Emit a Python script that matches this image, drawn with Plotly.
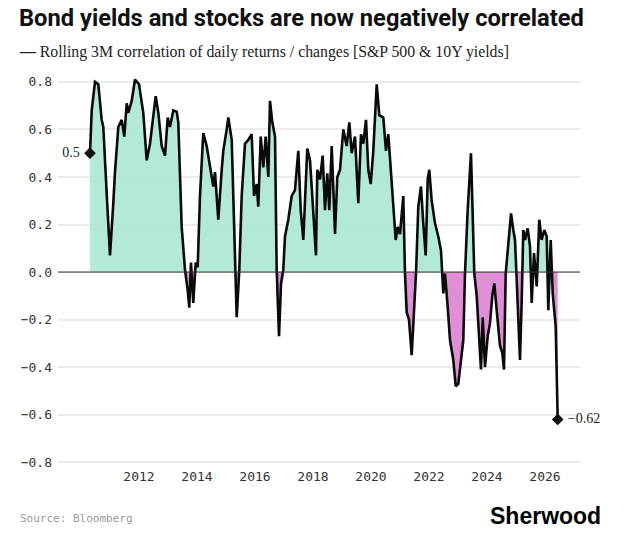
import plotly.graph_objects as go

# ---- data (decimal year, rolling 3M correlation) ----
years = [
    2010.310, 2010.370, 2010.483, 2010.597, 2010.714, 2010.769, 2010.886, 2011.000, 2011.114, 2011.172,
    2011.286, 2011.403, 2011.493, 2011.576, 2011.631, 2011.748, 2011.862, 2012.000, 2012.148, 2012.266,
    2012.379, 2012.576, 2012.666, 2012.783, 2012.897, 2012.990, 2013.069, 2013.183, 2013.300, 2013.355,
    2013.472, 2013.586, 2013.679, 2013.734, 2013.793, 2013.872, 2013.955, 2014.024, 2014.103, 2014.217,
    2014.334, 2014.448, 2014.562, 2014.621, 2014.734, 2014.852, 2014.907, 2015.024, 2015.079, 2015.197,
    2015.252, 2015.310, 2015.369, 2015.459, 2015.541, 2015.655, 2015.769, 2015.886, 2015.966, 2016.059,
    2016.114, 2016.197, 2016.286, 2016.369, 2016.459, 2016.517, 2016.597, 2016.690, 2016.748, 2016.828,
    2016.897, 2016.976, 2017.034, 2017.148, 2017.266, 2017.379, 2017.493, 2017.576, 2017.666, 2017.803,
    2017.897, 2018.010, 2018.103, 2018.148, 2018.241, 2018.334, 2018.414, 2018.493, 2018.562, 2018.645,
    2018.759, 2018.838, 2018.931, 2019.045, 2019.162, 2019.252, 2019.334, 2019.448, 2019.562, 2019.655,
    2019.734, 2019.828, 2019.907, 2019.990, 2020.079, 2020.197, 2020.286, 2020.424, 2020.517, 2020.597,
    2020.655, 2020.769, 2020.852, 2020.921, 2021.000, 2021.114, 2021.172, 2021.231, 2021.310, 2021.403,
    2021.493, 2021.552, 2021.631, 2021.724, 2021.803, 2021.886, 2021.955, 2022.010, 2022.093, 2022.207,
    2022.321, 2022.414, 2022.493, 2022.552, 2022.645, 2022.724, 2022.838, 2022.921, 2023.010, 2023.103,
    2023.183, 2023.241, 2023.334, 2023.448, 2023.528, 2023.562, 2023.645, 2023.724, 2023.793, 2023.852,
    2023.931, 2024.024, 2024.103, 2024.183, 2024.252, 2024.334, 2024.448, 2024.528, 2024.586, 2024.645,
    2024.734, 2024.828, 2024.907, 2024.966, 2025.024, 2025.079, 2025.138, 2025.197, 2025.252, 2025.310,
    2025.403, 2025.483, 2025.541, 2025.621, 2025.714, 2025.803, 2025.883, 2025.976, 2026.059, 2026.114,
    2026.197, 2026.266, 2026.321, 2026.369, 2026.438,
]
corr = [
    0.50, 0.68, 0.80, 0.79, 0.64, 0.61, 0.33, 0.07, 0.29, 0.42,
    0.61, 0.64, 0.57, 0.71, 0.67, 0.72, 0.81, 0.79, 0.67, 0.47,
    0.54, 0.74, 0.67, 0.53, 0.49, 0.65, 0.61, 0.68, 0.675, 0.63,
    0.19, 0.01, -0.076, -0.15, 0.04, -0.13, 0.04, 0.02, 0.32, 0.585,
    0.53, 0.44, 0.36, 0.42, 0.22, 0.43, 0.51, 0.60, 0.65, 0.556,
    0.30, 0.01, -0.19, 0.01, 0.32, 0.54, 0.556, 0.58, 0.32, 0.37,
    0.275, 0.57, 0.44, 0.57, 0.40, 0.72, 0.63, 0.57, 0.01, -0.27,
    -0.05, 0.01, 0.15, 0.22, 0.32, 0.345, 0.51, 0.26, 0.135, 0.52,
    0.47, 0.25, 0.07, 0.43, 0.39, 0.49, 0.26, 0.415, 0.26, 0.53,
    0.16, 0.40, 0.43, 0.60, 0.53, 0.63, 0.50, 0.57, 0.29, 0.58,
    0.54, 0.64, 0.43, 0.37, 0.51, 0.79, 0.66, 0.65, 0.51, 0.58,
    0.47, 0.275, 0.135, 0.19, 0.16, 0.32, -0.006, -0.17, -0.20, -0.35,
    -0.17, -0.006, 0.275, 0.36, 0.205, 0.07, 0.39, 0.43, 0.30, 0.205,
    0.15, 0.09, -0.09, -0.006, -0.146, -0.286, -0.37, -0.48, -0.47, -0.356,
    -0.286, -0.006, 0.26, 0.50, 0.205, -0.006, -0.10, -0.286, -0.41, -0.19,
    -0.40, -0.27, -0.216, -0.10, -0.048, -0.16, -0.31, -0.34, -0.41, -0.006,
    0.12, 0.247, 0.177, 0.135, -0.034, -0.17, -0.37, -0.118, 0.177, 0.135,
    0.184, 0.107, -0.13, 0.08, -0.06, 0.22, 0.135, 0.177, 0.15, -0.16,
    0.135, -0.09, -0.17, -0.23, -0.62,
]
x_tick_vals = [2012, 2014, 2016, 2018, 2020, 2022, 2024, 2026]
x_tick_text = ["2012", "2014", "2016", "2018", "2020", "2022", "2024", "2026"]
y_tick_vals = [0.8, 0.6, 0.4, 0.2, 0.0, -0.2, -0.4, -0.6, -0.8]
y_tick_text = ["0.8", "0.6", "0.4", "0.2", "0.0", "\u22120.2", "\u22120.4", "\u22120.6", "\u22120.8"]

title = "Bond yields and stocks are now negatively correlated"
subtitle = "Rolling 3M correlation of daily returns / changes [S&P 500 & 10Y yields]"
source = "Source: Bloomberg"

# ---- fill geometry: split at zero crossings ----
fx, fpos, fneg = [], [], []
for i in range(len(years)):
    if i > 0:
        y0, y1 = corr[i - 1], corr[i]
        if (y0 > 0 and y1 < 0) or (y0 < 0 and y1 > 0):
            t = y0 / (y0 - y1)
            xc = years[i - 1] + t * (years[i] - years[i - 1])
            fx.append(xc); fpos.append(0.0); fneg.append(0.0)
    fx.append(years[i])
    fpos.append(max(corr[i], 0.0))
    fneg.append(min(corr[i], 0.0))

W, H = 626, 535
L, R, T, B = 58, 46, 70, 68
PW, PH = W - L - R, H - T - B


def xp(px):
    return (px - L) / PW


def yp(py):
    return (H - B - py) / PH


fig = go.Figure()
fig.add_trace(go.Scatter(x=fx, y=fpos, mode="lines", line=dict(width=0),
                         fill="tozeroy", fillcolor="rgba(171,232,209,0.9)",
                         hoverinfo="skip"))
fig.add_trace(go.Scatter(x=fx, y=fneg, mode="lines", line=dict(width=0),
                         fill="tozeroy", fillcolor="rgba(221,131,209,0.9)",
                         hoverinfo="skip"))
fig.add_trace(go.Scatter(x=years, y=corr, mode="lines",
                         line=dict(color="#0a0a0a", width=2.6),
                         hoverinfo="skip"))
fig.add_trace(go.Scatter(x=[years[0], years[-1]], y=[corr[0], corr[-1]],
                         mode="markers+text",
                         marker=dict(symbol="diamond", size=9, color="#111111"),
                         text=["0.5 ", " \u22120.62"],
                         textposition=["middle left", "middle right"],
                         textfont=dict(family="Liberation Serif", size=14, color="#222222"),
                         cliponaxis=False, hoverinfo="skip"))

fig.add_shape(type="line", xref="paper", yref="y", x0=0, x1=1, y0=0, y1=0,
              line=dict(color="#333333", width=1), layer="above")

fig.update_layout(
    width=W, height=H,
    margin=dict(l=L, r=R, t=T, b=B),
    paper_bgcolor="white", plot_bgcolor="white",
    showlegend=False, hovermode=False,
    xaxis=dict(range=[2009.207, 2027.207], tickvals=x_tick_vals, ticktext=x_tick_text,
               showgrid=False, zeroline=False, showline=False, ticks="",
               tickfont=dict(family="DejaVu Sans Mono", size=13, color="#333333")),
    yaxis=dict(range=[-0.82, 0.85], tickvals=y_tick_vals, ticktext=y_tick_text,
               showgrid=True, gridcolor="#ebebeb", gridwidth=1.5,
               zeroline=False, showline=False, ticks="", ticklabelstandoff=5,
               tickfont=dict(family="DejaVu Sans Mono", size=13, color="#333333")),
    annotations=[
        dict(text="<b>" + title + "</b>", xref="paper", yref="paper",
             x=xp(17), y=yp(18), xanchor="left", yanchor="middle", showarrow=False,
             font=dict(family="Roboto", size=23.7, color="#111111")),
        dict(text="<b>\u2014</b> " + subtitle, xref="paper", yref="paper",
             x=xp(17), y=yp(52), xanchor="left", yanchor="middle", showarrow=False,
             font=dict(family="Liberation Serif", size=15.8, color="#222222")),
        dict(text=source, xref="paper", yref="paper",
             x=xp(18), y=yp(518), xanchor="left", yanchor="middle", showarrow=False,
             font=dict(family="DejaVu Sans Mono", size=11, color="#999999")),
        dict(text="<b>Sherwood</b>", xref="paper", yref="paper",
             x=xp(603), y=yp(516), xanchor="right", yanchor="middle", showarrow=False,
             font=dict(family="Liberation Sans", size=23, color="#000000")),
    ],
)

fig.write_html("out.html")
